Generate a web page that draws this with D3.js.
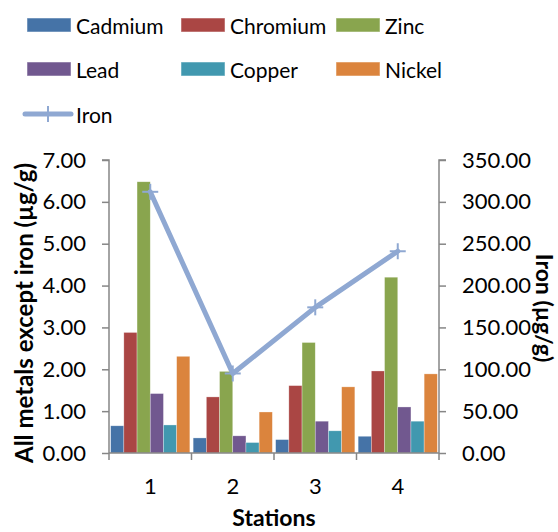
<!DOCTYPE html>
<html>
<head>
<meta charset="utf-8">
<script src="https://cdn.jsdelivr.net/npm/d3@7"></script>
<style>
  html, body { margin: 0; padding: 0; background: #fff; }
  svg { display: block; font-family: Lato, "Open Sans", sans-serif; }
</style>
</head>
<body>
<svg id="chart" width="558" height="532"></svg>
<script>
// Heavy metal concentrations by station (µg/g)
const stations = ["1", "2", "3", "4"];
const metals = ["Cadmium", "Chromium", "Zinc", "Lead", "Copper", "Nickel"];
const cadmium  = [0.65, 0.36, 0.32, 0.40];
const chromium = [2.88, 1.34, 1.61, 1.96];
const zinc     = [6.48, 1.95, 2.64, 4.20];
const lead     = [1.42, 0.41, 0.76, 1.10];
const copper   = [0.67, 0.25, 0.53, 0.76];
const nickel   = [2.31, 0.98, 1.58, 1.89];
const iron     = [312, 95, 174, 241];
const leftTicks  = [0, 1, 2, 3, 4, 5, 6, 7];
const rightTicks = [0, 50, 100, 150, 200, 250, 300, 350];

const seriesValues = [cadmium, chromium, zinc, lead, copper, nickel];
const colors = ["#4573A7", "#AA4644", "#89A54E", "#71588F", "#4198AF", "#DB843D"];
const ironColor = "#8FA8D2";
const axisColor = "#868686";

const svg = d3.select("#chart");
const plot = { left: 109, right: 439, top: 160, bottom: 453 };

const x0 = d3.scaleBand().domain(stations).range([plot.left, plot.right]).paddingInner(0).paddingOuter(0);
const x1 = d3.scaleBand().domain(metals).range([0, x0.bandwidth()]).paddingInner(0).paddingOuter(0.125);
const yL = d3.scaleLinear().domain([0, 7]).range([plot.bottom, plot.top]);
const yR = d3.scaleLinear().domain([0, 350]).range([plot.bottom, plot.top]);

// Bars
const groups = svg.append("g").selectAll("g")
  .data(stations).join("g")
  .attr("transform", d => `translate(${x0(d)},0)`);
groups.selectAll("rect")
  .data((d, i) => metals.map((m, k) => ({ metal: m, k, v: seriesValues[k][i] })))
  .join("rect")
  .attr("x", d => x1(d.metal))
  .attr("width", x1.bandwidth())
  .attr("y", d => yL(d.v))
  .attr("height", d => yL(0) - yL(d.v))
  .attr("fill", d => colors[d.k])
  .attr("stroke", "#fff").attr("stroke-opacity", 0.5).attr("stroke-width", 0.6);

// Axes
const tickFont = 22;
const leftAxis = svg.append("g").attr("transform", `translate(${plot.left},0)`)
  .call(d3.axisLeft(yL).tickValues(leftTicks).tickFormat(d3.format(".2f")).tickSize(7).tickPadding(16));
const rightAxis = svg.append("g").attr("transform", `translate(${plot.right},0)`)
  .call(d3.axisRight(yR).tickValues(rightTicks).tickFormat(d3.format(".2f")).tickSize(7).tickPadding(16));
const bottomAxis = svg.append("g").attr("transform", `translate(0,${plot.bottom})`)
  .call(d3.axisBottom(x0).tickSize(0).tickPadding(25));

[leftAxis, rightAxis, bottomAxis].forEach(a => {
  a.select(".domain").attr("stroke", axisColor).attr("stroke-width", 1.5);
  a.selectAll(".tick line").attr("stroke", axisColor).attr("stroke-width", 1.5);
  a.selectAll("text").attr("fill", "#000").style("font-size", tickFont + "px").style("font-family", "Lato, sans-serif");
});
leftAxis.select(".domain").attr("d", `M-7,${plot.top}H0V${plot.bottom}`);
rightAxis.select(".domain").attr("d", `M7,${plot.top}H0V${plot.bottom}`);
bottomAxis.select(".domain").attr("d", `M${plot.left},0H${plot.right}`);

// Category boundary ticks on the x axis
const boundaries = stations.map(s => x0(s)).concat([plot.right]);
bottomAxis.append("g").selectAll("line").data(boundaries).join("line")
  .attr("x1", d => d).attr("x2", d => d).attr("y1", 0).attr("y2", 7)
  .attr("stroke", axisColor).attr("stroke-width", 1.5);

// Iron line on the secondary axis
const cx = d => x0(d) + x0.bandwidth() / 2;
const line = d3.line().x((d, i) => cx(stations[i])).y(d => yR(d));
svg.append("path").datum(iron).attr("d", line)
  .attr("fill", "none").attr("stroke", ironColor).attr("stroke-width", 5)
  .attr("stroke-linejoin", "round").attr("stroke-linecap", "round");
const plus = (g, px, py, s) => {
  g.append("line").attr("x1", px - s).attr("x2", px + s).attr("y1", py).attr("y2", py);
  g.append("line").attr("x1", px).attr("x2", px).attr("y1", py - s).attr("y2", py + s);
};
const markers = svg.append("g").attr("stroke", ironColor).attr("stroke-width", 2);
iron.forEach((v, i) => plus(markers, cx(stations[i]), yR(v), 8));

// Axis titles
const titleFont = 23;
svg.append("text")
  .attr("transform", `translate(23,313) rotate(-90)`)
  .attr("text-anchor", "middle").attr("dominant-baseline", "central")
  .style("font-size", "24px").style("font-weight", "bold")
  .text("All metals except iron (µg/g)");
svg.append("text")
  .attr("transform", `translate(545,308) rotate(90)`)
  .attr("text-anchor", "middle").attr("dominant-baseline", "central")
  .style("font-size", titleFont + "px").style("font-weight", "bold")
  .text("Iron (µg/g)");
svg.append("text")
  .attr("x", (plot.left + plot.right) / 2).attr("y", 526)
  .attr("text-anchor", "middle")
  .style("font-size", titleFont + "px").style("font-weight", "bold")
  .text("Stations");

// Legend
const legendFont = 21;
const legendCols = [27, 181, 336];
const legendRows = [25, 69, 114];
const legend = svg.append("g");
metals.forEach((m, k) => {
  const lx = legendCols[k % 3], ly = legendRows[Math.floor(k / 3)];
  legend.append("rect").attr("x", lx).attr("y", ly - 7).attr("width", 44).attr("height", 14)
    .attr("fill", colors[k]).attr("stroke", "#fff").attr("stroke-opacity", 0.5);
  legend.append("text").attr("x", lx + 49).attr("y", ly).attr("dominant-baseline", "central")
    .style("font-size", legendFont + "px").text(m);
});
{
  const lx = 25, ly = legendRows[2];
  legend.append("line").attr("x1", lx).attr("x2", lx + 46).attr("y1", ly).attr("y2", ly)
    .attr("stroke", ironColor).attr("stroke-width", 5).attr("stroke-linecap", "round");
  legend.append("line").attr("x1", lx + 23).attr("x2", lx + 23).attr("y1", ly - 8).attr("y2", ly + 8)
    .attr("stroke", ironColor).attr("stroke-width", 2);
  legend.append("text").attr("x", 76).attr("y", ly).attr("dominant-baseline", "central")
    .style("font-size", legendFont + "px").text("Iron");
}
</script>
</body>
</html>
